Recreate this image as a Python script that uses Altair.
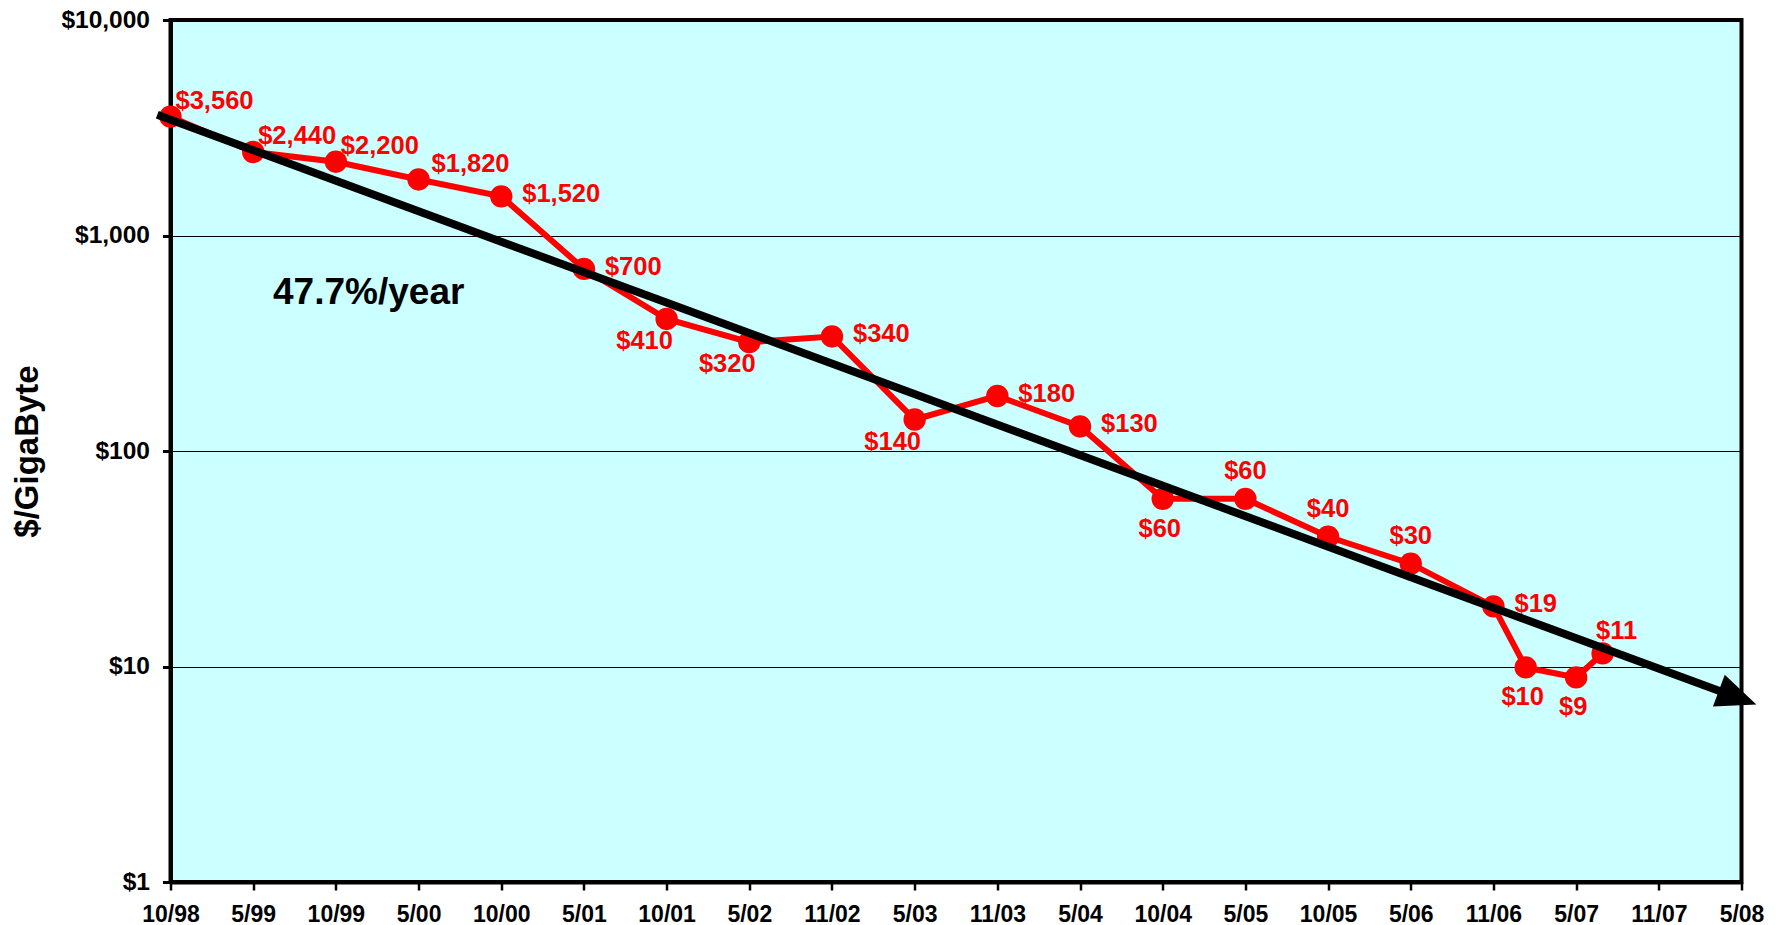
import altair as alt
import pandas as pd

FONT = "Liberation Sans"

tick_labels = ["10/98", "5/99", "10/99", "5/00", "10/00", "5/01", "10/01", "5/02",
               "11/02", "5/03", "11/03", "5/04", "10/04", "5/05", "10/05", "5/06",
               "11/06", "5/07", "11/07", "5/08"]

price_x = [0, 1, 2, 3, 4, 5, 6, 7, 8, 9, 10, 11, 12, 13, 14, 15, 16, 16.39, 17, 17.32]
price_y = [3560, 2440, 2200, 1820, 1520, 700, 410, 320, 340, 140, 180, 130,
           60, 60, 40, 30, 19, 9.9, 8.9, 11.5]
price_text = ["$3,560", "$2,440", "$2,200", "$1,820", "$1,520", "$700", "$410", "$320",
              "$340", "$140", "$180", "$130", "$60", "$60", "$40", "$30", "$19",
              "$10", "$9", "$11"]
label_place = ["ar", "ar", "ar", "ar2", "r", "r", "bl", "bl", "r", "bl", "r", "r",
               "b", "a", "a", "a", "r", "b", "b", "a2"]

# trend line
trend_x = [-0.16, 18.85]
trend_y = [3631, 7.41]
arrow_x = [19.18]
arrow_y = [6.66]

ann_x = [1.24]
ann_y = [540]
ann_text = ["47.7%/year"]

df = pd.DataFrame({"x": price_x, "y": price_y, "label": price_text, "place": label_place})
trend = pd.DataFrame({"x": trend_x, "y": trend_y})
arrow = pd.DataFrame({"x": arrow_x, "y": arrow_y})
ann = pd.DataFrame({"x": ann_x, "y": ann_y, "t": ann_text})

xscale = alt.Scale(domain=[0, 19], nice=False, zero=False)
yscale = alt.Scale(type="log", domain=[1, 10000], nice=False)

label_expr = "[" + ",".join('"%s"' % t for t in tick_labels) + "][datum.value]"

xaxis = alt.Axis(values=list(range(20)), labelExpr=label_expr, title=None, grid=False,
                 domainColor="black", domainWidth=4, tickColor="black", tickWidth=2.5,
                 tickSize=8, labelFont=FONT, labelFontSize=23, labelFontWeight="bold",
                 labelColor="black", labelPadding=13, labelFlush=False, labelOverlap=False,
                 labelBaseline="top")
yaxis = alt.Axis(values=[1, 10, 100, 1000, 10000],
                 labelExpr='"$" + format(datum.value, ",")',
                 title="$/GigaByte", grid=True, gridColor="black", gridWidth=1, gridOpacity=1,
                 domainColor="black", domainWidth=4, tickColor="black", tickWidth=3,
                 tickSize=8, labelFont=FONT, labelFontSize=24.5, labelFontWeight="bold",
                 labelColor="black", labelPadding=13, labelOverlap=False, labelFlush=False,
                 labelBaseline="middle",
                 titleFont=FONT, titleFontSize=33, titleFontWeight="bold", titleColor="black",
                 titleAngle=-90, titleX=-143, titleY=431, titleAlign="center",
                 titleBaseline="middle")

X = alt.X("x:Q", scale=xscale, axis=xaxis)
Y = alt.Y("y:Q", scale=yscale, axis=yaxis)

RED = "#FF0000"

price_line = alt.Chart(df).mark_line(color=RED, strokeWidth=6).encode(x=X, y=Y)
price_pts = alt.Chart(df).mark_point(shape="circle", filled=True, color=RED, size=500,
                                     opacity=1).encode(x=X, y=Y)

placements = {
    "ar": dict(dx=5, dy=-16, align="left"),
    "ar2": dict(dx=13, dy=-15, align="left"),
    "r": dict(dx=21, dy=-2, align="left"),
    "bl": dict(dx=-22, dy=22, align="center"),
    "b": dict(dx=-3, dy=30, align="center"),
    "a": dict(dx=0, dy=-28, align="center"),
    "a2": dict(dx=14, dy=-22, align="center"),
}

text_layers = []
for key, p in placements.items():
    text_layers.append(
        alt.Chart(df).transform_filter(alt.datum.place == key).mark_text(
            font=FONT, fontSize=25.5, fontWeight="bold", color=RED,
            baseline="middle", **p
        ).encode(x=X, y=Y, text="label:N")
    )

trend_line = alt.Chart(trend).mark_line(color="black", strokeWidth=8, strokeCap="butt").encode(x=X, y=Y)
arrow_head = alt.Chart(arrow).mark_point(
    shape="M0,0 L-2,-0.85 L-2,0.85 Z", filled=True, color="black", opacity=1,
    size=1600, angle=20.3
).encode(x=X, y=Y)

annotation = alt.Chart(ann).mark_text(
    font=FONT, fontSize=37, fontWeight="bold", color="black", align="left", baseline="middle"
).encode(x=X, y=Y, text="t:N")

chart = alt.layer(price_line, price_pts, *text_layers, trend_line, arrow_head, annotation).properties(
    width=1571, height=862,
    padding={"left": 162.5, "top": 12, "right": 25, "bottom": 50},
    autosize=alt.AutoSizeParams(type="none"),
    background="white",
).configure_view(fill="#CCFFFF", stroke="black", strokeWidth=4)

chart.save("out.html", embed_options={"renderer": "svg", "actions": False})
